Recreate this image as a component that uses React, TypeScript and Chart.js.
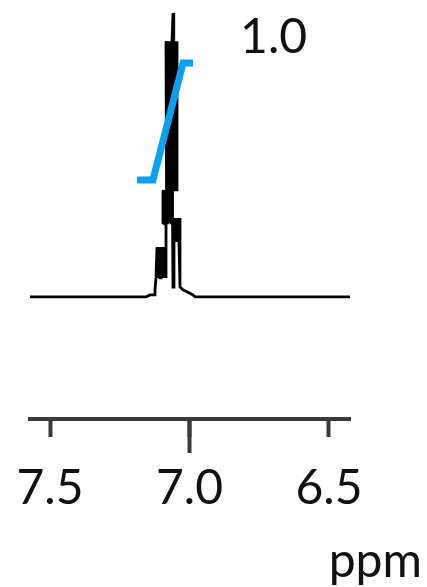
import React, { useEffect, useRef } from "react";
import { Chart, registerables } from "chart.js";
Chart.register(...registerables);

// Spectrum trace (chemical shift in ppm, relative intensity)
const SPEC_PPM = [
  7.5717, 7.1559, 7.1416, 7.1272, 7.1237, 7.1201,
  7.1165, 7.1129, 7.1093, 7.1057, 7.1022, 7.0986, 7.095, 7.0914, 7.0878, 7.0842,
  7.0842, 7.095, 7.095, 7.0914, 7.0914, 7.0878, 7.0878, 7.0842, 7.0842, 7.0806, 7.0806, 7.0771,
  7.0753, 7.0735, 7.0717, 7.0699, 7.0681, 7.0663, 7.0645, 7.0627, 7.0627,
  7.0842, 7.0824, 7.0806, 7.0789, 7.0771, 7.0753, 7.0735, 7.0717, 7.0699, 7.0681, 7.0663, 7.0645,
  7.0627, 7.0591, 7.0573, 7.0556, 7.0538, 7.052, 7.0502, 7.0484, 7.0466, 7.0448, 7.0609,
  7.0609, 7.0591, 7.0556, 7.0556, 7.052, 7.0484, 7.0448, 7.0412, 7.0376, 7.0341, 7.0341,
  7.0233, 7.009, 6.9875, 6.9803, 6.4247,
];
const SPEC_INT = [
  0, 0, 0.007, 0.007, 0.025, 0.067,
  0.176, 0.067, 0.176, 0.067, 0.176, 0.067, 0.176, 0.067, 0.176, 0.067,
  0.254, 0.261, 0.377, 0.261, 0.377, 0.261, 0.377, 0.261, 0.377, 0.261, 0.377, 0.261,
  0.377, 0.261, 0.377, 0.261, 0.377, 0.261, 0.377, 0.261, 0.377,
  0.901, 0.377, 0.901, 0.377, 0.901, 0.377, 0.901, 0.377, 0.901, 0.377, 0.901, 0.377,
  0.901, 1.0, 0.901, 0.377, 0.901, 0.377, 0.901, 0.377, 0.901, 0.377, 0.377,
  0.278, 0.035, 0.194, 0.278, 0.194, 0.278, 0.194, 0.278, 0.194, 0.278, 0.035,
  0.025, 0.018, 0.007, 0, 0,
];

// Integral curve
const INTEGRAL_PPM = [7.188, 7.131, 7.023, 6.987];
const INTEGRAL_VAL = [0.412, 0.412, 0.824, 0.824];
const INTEGRAL_LABEL = "1.0";

// Axis
const TICK_VALUES = [7.5, 7.0, 6.5];
const TICK_LABELS = ["7.5", "7.0", "6.5"];
const MAJOR_TICK = 7.0;
const AXIS_TITLE = "ppm";
const X_MIN = 6.4247;
const X_MAX = 7.5717;
const Y_MIN = -0.43;
const Y_MAX = 1.046;

const FONT = "Lato, 'Noto Sans', sans-serif";
const AXIS_COLOR = "#3a3a3a";

export default function App() {
  const ref = useRef<HTMLCanvasElement | null>(null);

  useEffect(() => {
    if (!ref.current) return;
    const overlay = {
      id: "overlay",
      afterDraw(chart: any) {
        const ctx = chart.ctx;
        const xs = chart.scales.x;
        const ys = chart.scales.y;
        ctx.save();
        // longer major tick
        const mx = xs.getPixelForValue(MAJOR_TICK);
        ctx.strokeStyle = AXIS_COLOR;
        ctx.lineWidth = 4;
        ctx.beginPath();
        ctx.moveTo(mx, xs.top);
        ctx.lineTo(mx, xs.top + 34);
        ctx.stroke();
        // integral label
        ctx.fillStyle = "#111";
        ctx.font = `48px ${FONT}`;
        ctx.textAlign = "left";
        ctx.textBaseline = "alphabetic";
        const n = INTEGRAL_PPM.length - 1;
        ctx.fillText(
          INTEGRAL_LABEL,
          xs.getPixelForValue(INTEGRAL_PPM[n]) + 47,
          ys.getPixelForValue(INTEGRAL_VAL[n]) - 10
        );
        // axis title
        ctx.textAlign = "right";
        ctx.fillText(AXIS_TITLE, chart.width - 5, chart.height - 10);
        ctx.restore();
      },
    };

    const chart = new Chart(ref.current, {
      type: "line",
      data: {
        datasets: [
          {
            data: INTEGRAL_PPM.map((p, i) => ({ x: p, y: INTEGRAL_VAL[i] })),
            borderColor: "#0aa0f0",
            borderWidth: 7,
            borderCapStyle: "butt",
            borderJoinStyle: "miter",
            pointRadius: 0,
            tension: 0,
            fill: false,
          },
          {
            data: SPEC_PPM.map((p, i) => ({ x: p, y: SPEC_INT[i] })),
            borderColor: "#000",
            borderWidth: 2.8,
            borderJoinStyle: "miter",
            pointRadius: 0,
            tension: 0,
            fill: false,
          },
        ],
      },
      options: {
        responsive: false,
        animation: false,
        events: [],
        parsing: false,
        normalized: false,
        layout: { padding: { left: 30, right: 77, top: 0, bottom: 0 } },
        plugins: { legend: { display: false }, tooltip: { enabled: false } },
        scales: {
          x: {
            type: "linear",
            reverse: true,
            min: X_MIN,
            max: X_MAX,
            afterBuildTicks: (s: any) => {
              s.ticks = TICK_VALUES.map((v) => ({ value: v }));
            },
            afterFit: (s: any) => {
              s.height = 168;
              s.paddingLeft = 0;
              s.paddingRight = 0;
            },
            grid: {
              drawOnChartArea: false,
              drawTicks: true,
              tickLength: 18,
              tickWidth: 4,
              tickColor: AXIS_COLOR,
            },
            border: { display: true, width: 4, color: AXIS_COLOR },
            ticks: {
              padding: 23,
              color: "#111",
              font: { family: FONT, size: 48 },
              maxRotation: 0,
              autoSkip: false,
              callback: (v: any) => {
                const i = TICK_VALUES.indexOf(Number(v));
                return i >= 0 ? TICK_LABELS[i] : "";
              },
            },
          },
          y: {
            type: "linear",
            display: false,
            min: Y_MIN,
            max: Y_MAX,
          },
        },
      },
      plugins: [overlay],
    } as any);
    return () => chart.destroy();
  }, []);

  return (
    <div style={{ position: "absolute", left: 0, top: 0, width: 427, height: 587, background: "#fff" }}>
      <canvas ref={ref} width={427} height={587} style={{ display: "block" }} />
    </div>
  );
}
